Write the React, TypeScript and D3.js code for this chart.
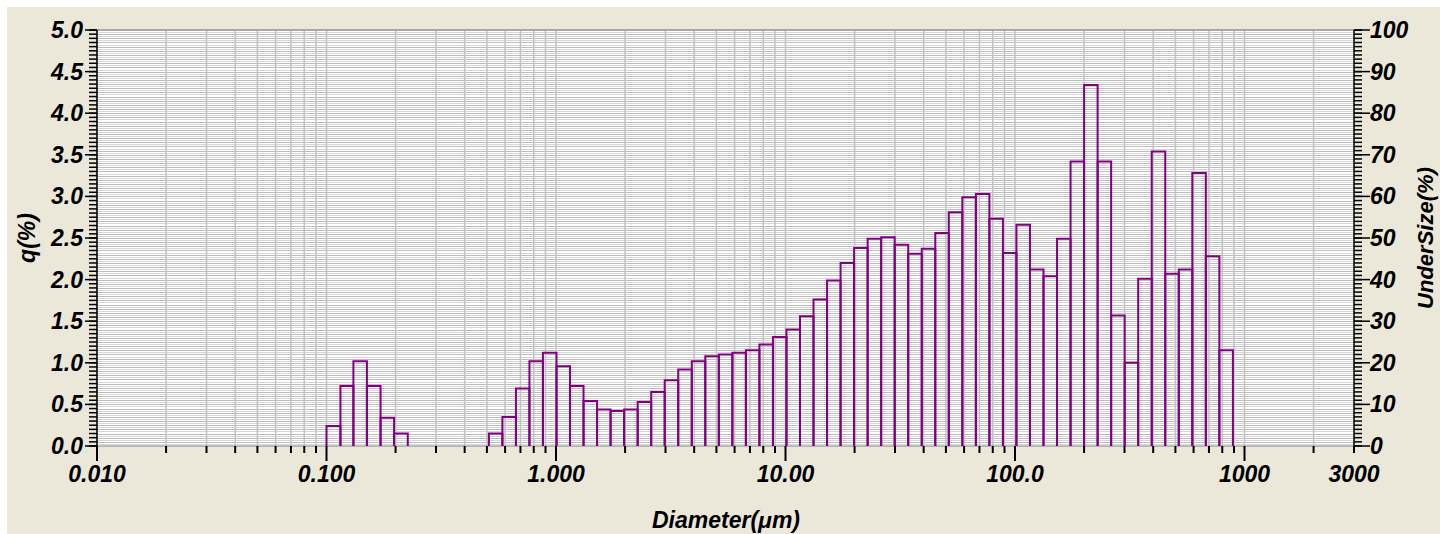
import * as d3 from 'd3';

// bin edges (µm) and frequency q(%) per bin
const edges = [
  0.1, 0.115, 0.131, 0.15, 0.172, 0.197, 0.226, 0.259, 0.296, 0.339, 0.389, 0.445,
  0.51, 0.584, 0.669, 0.766, 0.877, 1.005, 1.151, 1.318, 1.51, 1.729, 1.981, 2.269,
  2.599, 2.976, 3.409, 3.905, 4.472, 5.122, 5.867, 6.72, 7.697, 8.816, 10.097, 11.565,
  13.246, 15.172, 17.377, 19.904, 22.797, 26.111, 29.907, 34.255, 39.234, 44.938, 51.471,
  58.953, 67.523, 77.339, 88.583, 101.46, 116.21, 133.1, 152.45, 174.62, 200.0, 229.08,
  262.38, 300.52, 344.21, 394.24, 451.55, 517.2, 592.39, 678.5, 777.14, 890.14,
];
const qValues = [
  0.24, 0.72, 1.02, 0.72, 0.34, 0.15, 0, 0, 0, 0, 0, 0,
  0.15, 0.35, 0.69, 1.02, 1.12, 0.96, 0.72, 0.54, 0.44, 0.42,
  0.44, 0.53, 0.65, 0.79, 0.92, 1.02, 1.08, 1.1, 1.12, 1.15,
  1.22, 1.31, 1.4, 1.56, 1.76, 1.99, 2.2, 2.38, 2.49, 2.51,
  2.42, 2.31, 2.37, 2.56, 2.81, 2.99, 3.03, 2.73, 2.32, 2.66,
  2.12, 2.04, 2.49, 3.42, 4.34, 3.42, 1.57, 1.0, 2.01, 3.54,
  2.07, 2.12, 3.28, 2.28, 1.15,
];
const xTickLabels = [
  { v: 0.01, label: '0.010' },
  { v: 0.1, label: '0.100' },
  { v: 1, label: '1.000' },
  { v: 10, label: '10.00' },
  { v: 100, label: '100.0' },
  { v: 1000, label: '1000' },
  { v: 3000, label: '3000' },
];
const leftTicks = [0, 0.5, 1, 1.5, 2, 2.5, 3, 3.5, 4, 4.5, 5];
const rightTicks = [0, 10, 20, 30, 40, 50, 60, 70, 80, 90, 100];

const W = 1440;
const H = 534;
const margin = { left: 97, right: 86, top: 30, bottom: 88 };
const FONT = '"Liberation Sans", Arial, sans-serif';
const FS = 23;

export default function App() {
  const x = d3.scaleLog().domain([0.01, 3000]).range([margin.left, W - margin.right]);
  const y = d3.scaleLinear().domain([0, 5]).range([H - margin.bottom, margin.top]);
  const y2 = d3.scaleLinear().domain([0, 100]).range([H - margin.bottom, margin.top]);
  const [x0, x1] = x.range();
  const [yb, yt] = y.range();

  // log minor positions 2..9 per decade, up to 3000
  const minorX: number[] = [];
  [0.01, 0.1, 1, 10, 100, 1000].forEach(d => {
    for (let k = 2; k <= 9; k++) {
      const v = d * k;
      if (v < 3000) minorX.push(v);
    }
  });
  const majorX = [0.01, 0.1, 1, 10, 100, 1000];

  const hGrid = d3.range(0, 201).map(i => i * 0.025);
  const leftMinor = d3.range(0, 101).map(i => i * 0.05);
  const rightMinor = d3.range(0, 101);

  const bars = qValues
    .map((q, i) => ({ q, a: edges[i], b: edges[i + 1] }))
    .filter(d => d.q > 0);

  const txt = { fontFamily: FONT, fontSize: FS, fontWeight: 'bold', fontStyle: 'italic', fill: '#000' } as const;

  return (
    <svg width={W} height={H} style={{ position: 'absolute', left: 0, top: 0, display: 'block' }}>
      <rect x={0} y={0} width={W} height={H} fill="#ffffff" />
      <rect x={7} y={7} width={W - 7} height={H - 7} fill="#ebe7d9" />
      <rect x={x0} y={yt} width={x1 - x0} height={yb - yt} fill="#ffffff" />

      {/* horizontal grid */}
      {hGrid.map((v, i) => (
        <line key={'h' + i} x1={x0} x2={x1} y1={Math.round(y(v)) + 0.5} y2={Math.round(y(v)) + 0.5}
          stroke={i % 2 === 0 ? '#bcbcbc' : '#d6d6d6'} strokeWidth={1} />
      ))}
      {/* vertical grid */}
      {[...minorX, ...majorX].map((v, i) => (
        <line key={'v' + i} x1={x(v)} x2={x(v)} y1={yt} y2={yb} stroke="#c2c2c2" strokeWidth={1.5} />
      ))}
      <line x1={x0} x2={x1} y1={yt} y2={yt} stroke="#a8a8a8" strokeWidth={2} />
      <line x1={x0} x2={x1} y1={yb} y2={yb} stroke="#b0b0b0" strokeWidth={1.5} />

      {/* histogram */}
      {bars.map((d, i) => (
        <path key={'b' + i}
          d={`M${x(d.a)},${yb}V${y(d.q)}H${x(d.b)}V${yb}`}
          fill="none" stroke="#800080" strokeWidth={2} />
      ))}

      {/* left axis */}
      <line x1={x0} x2={x0} y1={yt} y2={yb} stroke="#000" strokeWidth={1.5} />
      {leftMinor.map((v, i) => (
        <line key={'lm' + i} x1={x0 - 8} x2={x0} y1={y(v)} y2={y(v)} stroke="#000" strokeWidth={1.5} />
      ))}
      {leftTicks.map(v => (
        <g key={'lt' + v}>
          <line x1={x0 - 12} x2={x0} y1={y(v)} y2={y(v)} stroke="#000" strokeWidth={1.5} />
          <text x={x0 - 14} y={y(v) + 8} textAnchor="end" {...txt}>{v.toFixed(1)}</text>
        </g>
      ))}

      {/* right axis */}
      <line x1={x1} x2={x1} y1={yt} y2={yb} stroke="#000" strokeWidth={1.5} />
      {rightMinor.map((v, i) => (
        <line key={'rm' + i} x1={x1} x2={x1 + 8} y1={y2(v)} y2={y2(v)} stroke="#000" strokeWidth={1.5} />
      ))}
      {rightTicks.map(v => (
        <g key={'rt' + v}>
          <line x1={x1} x2={x1 + 16} y1={y2(v)} y2={y2(v)} stroke="#000" strokeWidth={1.5} />
          <text x={x1 + 16} y={y2(v) + 8} textAnchor="start" {...txt}>{v}</text>
        </g>
      ))}

      {/* bottom axis */}
      {minorX.map((v, i) => (
        <line key={'xm' + i} x1={x(v)} x2={x(v)} y1={yb} y2={yb + 7} stroke="#000" strokeWidth={2} />
      ))}
      {majorX.map(v => (
        <line key={'xM' + v} x1={x(v)} x2={x(v)} y1={yb} y2={yb + 15} stroke="#000" strokeWidth={2} />
      ))}
      <line x1={x1} x2={x1} y1={yb} y2={yb + 7} stroke="#000" strokeWidth={2} />
      {xTickLabels.map(t => (
        <text key={'xl' + t.label} x={x(t.v)} y={482} textAnchor="middle" {...txt}>{t.label}</text>
      ))}

      {/* titles */}
      <text x={726} y={528} textAnchor="middle" {...txt}>Diameter(μm)</text>
      <text transform={`translate(35,${(yt + yb) / 2}) rotate(-90)`} textAnchor="middle" {...txt}>q(%)</text>
      <text transform={`translate(1433,${(yt + yb) / 2}) rotate(-90)`} textAnchor="middle" {...txt}
        fontSize={22}>UnderSize(%)</text>
    </svg>
  );
}
